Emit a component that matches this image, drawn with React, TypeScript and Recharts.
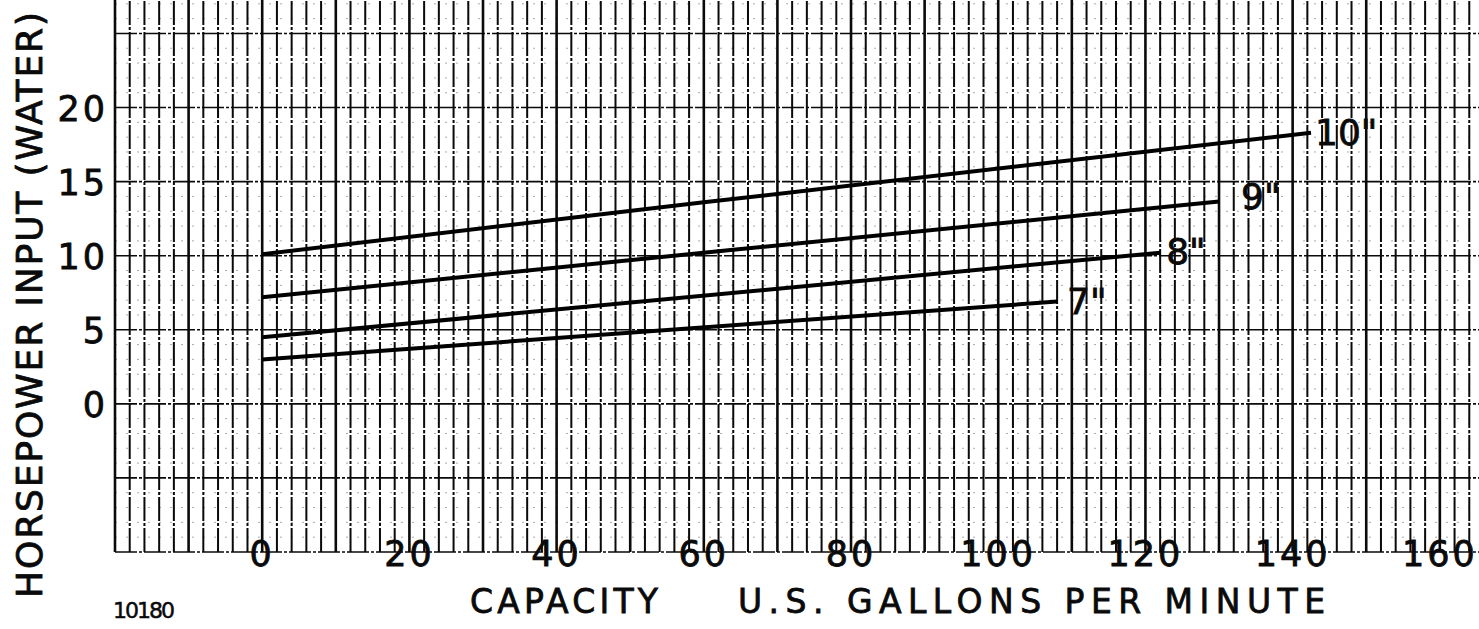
import React from "react";
import { LineChart, Line, XAxis, YAxis, ReferenceLine } from "recharts";

// tick labels printed on the sheet
const xTickLabels = [0, 20, 40, 60, 80, 100, 120, 140, 160];
const yTickLabels = [0, 5, 10, 15, 20];

// impeller diameters and their curves (capacity gpm -> horsepower)
const impellerNames = ['7"', '8"', '9"', '10"'];
const capacity7 = [0, 108];
const hp7 = [3.0, 6.9];
const capacity8 = [0, 122];
const hp8 = [4.5, 10.2];
const capacity9 = [0, 64, 130];
const hp9 = [7.2, 10.4, 13.65];
const capacity10 = [0, 60, 142.5];
const hp10 = [10.1, 13.6, 18.3];

const toPoints = (xs: number[], ys: number[]) => xs.map((x, i) => ({ x, hp: ys[i] }));

const series = [
  { name: impellerNames[0], data: toPoints(capacity7, hp7), dx: 10, dy: 12 },
  { name: impellerNames[1], data: toPoints(capacity8, hp8), dx: 6, dy: 11 },
  { name: impellerNames[2], data: toPoints(capacity9, hp9), dx: 22, dy: 7 },
  { name: impellerNames[3], data: toPoints(capacity10, hp10), dx: 4, dy: 12 },
];

const FONT = "'DejaVu Sans', sans-serif";
const INK = "#0a0a0a";

// graph paper rulings
const xGrid: number[] = [];
for (let v = -20; v <= 166; v += 2) xGrid.push(v);
const yGrid: number[] = [];
for (let v = -10; v <= 28; v += 1) yGrid.push(v);

const textStyle = { fontFamily: FONT, fill: INK, stroke: INK, strokeWidth: 0.8 };

const XTick = ({ x, y, payload }: any) => (
  <text x={x} y={y + 14} textAnchor="middle" fontSize={35} letterSpacing={3} {...textStyle}>
    {payload.value}
  </text>
);

const YTick = ({ y, payload }: any) => (
  <text x={108} y={y + 13} textAnchor="end" fontSize={35} letterSpacing={3} {...textStyle}>
    {payload.value}
  </text>
);

export default function App() {
  return (
    <div style={{ position: "absolute", left: 0, top: 0, width: 1479, height: 629, overflow: "hidden", background: "#fff" }}>
      <div style={{ position: "absolute", left: 0, top: -11 }}>
        <LineChart width={1484} height={651} margin={{ top: 0, right: 0, bottom: 0, left: 0 }}>
          <XAxis
            type="number"
            dataKey="x"
            domain={[-20, 166]}
            allowDataOverflow
            ticks={xTickLabels}
            tick={<XTick />}
            tickLine={false}
            axisLine={false}
            tickSize={0}
            tickMargin={0}
            height={88}
            interval={0}
          />
          <YAxis
            type="number"
            dataKey="hp"
            domain={[-10, 28]}
            allowDataOverflow
            ticks={yTickLabels}
            tick={<YTick />}
            tickLine={false}
            axisLine={false}
            tickSize={0}
            width={115}
            interval={0}
          />
          {yGrid.map((v) =>
            v % 5 === 0 ? (
              <ReferenceLine key={"h" + v} y={v} stroke={INK} strokeWidth={1.6} strokeDasharray="22 2 3 2" />
            ) : (
              <ReferenceLine key={"h" + v} y={v} stroke="#aaa" strokeWidth={1} strokeDasharray="2 9" />
            )
          )}
          {xGrid.map((v) =>
            v % 10 === 0 ? (
              <ReferenceLine key={"v" + v} x={v} stroke={INK} strokeWidth={2.6} />
            ) : (
              <ReferenceLine key={"v" + v} x={v} stroke={INK} strokeWidth={2} strokeDasharray="24 2 3 2" />
            )
          )}
          {series.map((s) => (
            <Line
              key={s.name}
              data={s.data}
              dataKey="hp"
              stroke="#000"
              strokeWidth={4}
              dot={false}
              isAnimationActive={false}
              label={(p: any) =>
                p.index === s.data.length - 1 ? (
                  <text
                    key={s.name + "lbl"}
                    x={p.x + s.dx}
                    y={p.y + s.dy}
                    fontSize={36}
                    {...textStyle}
                  >
                    {s.name}
                  </text>
                ) : (
                  <g key={s.name + "l" + p.index} />
                )
              }
            />
          ))}
        </LineChart>
      </div>
      <svg width={1479} height={629} style={{ position: "absolute", left: 0, top: 0, pointerEvents: "none" }}>
        <text
          transform="translate(42,305) rotate(-90)"
          textAnchor="middle"
          fontSize={36}
          textLength={586}
          lengthAdjust="spacing"
          {...textStyle}
        >
          HORSEPOWER  INPUT  (WATER)
        </text>
        <text x={470} y={613} fontSize={33} textLength={188} lengthAdjust="spacing" {...textStyle}>
          CAPACITY
        </text>
        <text x={738} y={613} fontSize={33} textLength={587} lengthAdjust="spacing" {...textStyle}>
          U.S. GALLONS PER MINUTE
        </text>
        <text x={113} y={618} fontSize={22} textLength={62} lengthAdjust="spacing" {...textStyle} strokeWidth={0.5}>
          10180
        </text>
      </svg>
    </div>
  );
}
